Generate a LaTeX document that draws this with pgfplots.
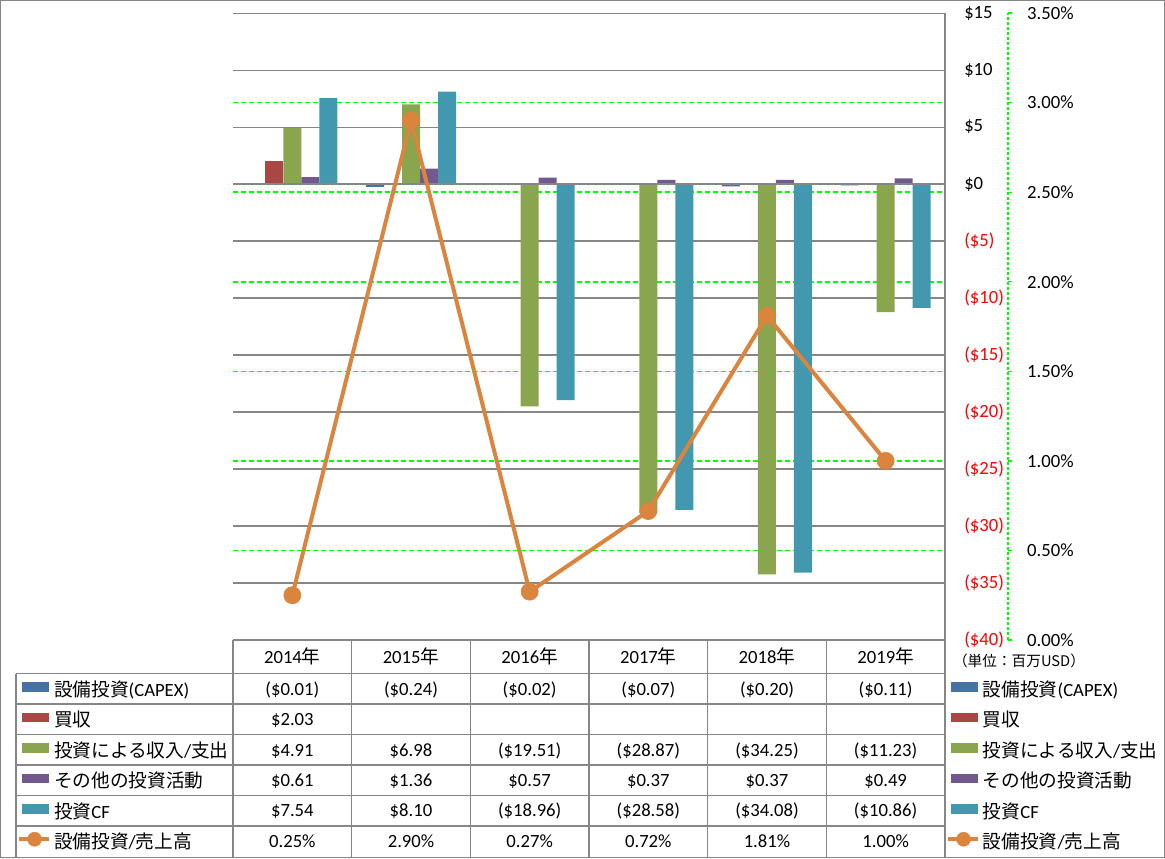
\documentclass[border=0pt]{standalone}
\usepackage{fontspec}
\setmainfont{Carlito}
\newfontfamily\jp{Noto Sans CJK JP}
\usepackage{pgfplots}
\pgfplotsset{compat=1.18}
\usepackage{pgfplotstable}

\definecolor{capex}{RGB}{69,114,167}
\definecolor{acq}{RGB}{170,70,67}
\definecolor{invest}{RGB}{137,165,78}
\definecolor{other}{RGB}{113,88,143}
\definecolor{cf}{RGB}{65,152,175}
\definecolor{ratio}{RGB}{219,132,61}
\definecolor{frame}{RGB}{134,134,134}
\definecolor{grn}{RGB}{0,255,0}

% x = year index (2014 = 0), money in million USD, ratio in %
\pgfplotstableread{
x capex acq invest other cf ratio
0 -0.01 2.03 4.91 0.61 7.54 0.25
1 -0.24 nan 6.98 1.36 8.10 2.90
2 -0.02 nan -19.51 0.57 -18.96 0.27
3 -0.07 nan -28.87 0.37 -28.58 0.72
4 -0.20 nan -34.25 0.37 -34.08 1.81
5 -0.11 nan -11.23 0.49 -10.86 1.00
}\cfdata

\newcommand\numfont{\fontsize{14}{17}\selectfont}

\pgfplotsset{
  plotarea/.style={
    at={(174.75pt,-480pt)}, anchor=south west, scale only axis,
    width=534pt, height=470.25pt, xmin=-0.5, xmax=5.5,
  },
  tablelegend/.style={
    legend cell align=left,
    legend style={draw=none, fill=none, inner sep=0pt, outer sep=0pt,
      row sep=0pt, font=\numfont,
      nodes={inner sep=0pt, text height=18.4pt, text depth=4.475pt},
      /tikz/every odd column/.style={column sep=2.25pt},
      anchor=north west},
  },
  barkey/.style={legend image code/.code={%
    \fill[#1] (0pt,-3.2pt) rectangle (19.5pt,3.2pt);}},
  linekey/.style={legend image code/.code={%
    \draw[#1,line width=3pt] (-2.25pt,0pt) -- (20.25pt,0pt);
    \fill[#1] (9.4pt,0pt) circle (5.25pt);}},
}

\newcommand\legendlist{%
  \addlegendimage{barkey=capex}
  \addlegendimage{barkey=acq}
  \addlegendimage{barkey=invest}
  \addlegendimage{barkey=other}
  \addlegendimage{barkey=cf}
  \addlegendimage{linekey=ratio}
  \legend{{\jp 設備投資}(CAPEX),{\jp 買収},{\jp 投資による収入}/{\jp 支出},{\jp その他の投資活動},{\jp 投資}CF,{\jp 設備投資}/{\jp 売上高}}
}

\begin{document}
\begin{tikzpicture}
\begin{scope}[x=0.75pt,y=-0.75pt]
  \useasboundingbox (0,0) rectangle (1165,858);
\end{scope}

% green grid of the ratio axis, right legend
\begin{axis}[plotarea, ymin=0, ymax=3.5,
  axis line style={draw=none}, xtick=\empty,
  ytick={0.5,1,1.5,2,2.5,3}, yticklabels={}, major tick length=0pt,
  ymajorgrids, major grid style={grn, dash pattern=on 3.75pt off 2.25pt, line width=1.2pt},
  tablelegend, legend style={at={(1.001404,-0.05024)}}]
  \legendlist
\end{axis}

% bars
\begin{axis}[plotarea, ymin=-40, ymax=15,
  ybar=0pt, bar width=13.5pt,
  axis x line=none, axis y line*=right,
  y axis line style={frame, line width=0.8pt, -},
  xtick=\empty, ytick={-40,-35,...,15},
  yticklabels={{\color{red}(\$40)},{\color{red}(\$35)},{\color{red}(\$30)},{\color{red}(\$25)},{\color{red}(\$20)},{\color{red}(\$15)},{\color{red}(\$10)},{\color{red}(\$5)},\$0,\$5,\$10,\$15},
  major tick length=0pt,
  ymajorgrids, major grid style={frame, line width=0.8pt},
  yticklabel style={anchor=west, inner sep=0pt, xshift=14.25pt, font=\numfont}]
  \addplot[fill=capex, draw=none] table[x=x, y=capex] {\cfdata};
  \addplot[fill=acq, draw=none] table[x=x, y=acq] {\cfdata};
  \addplot[fill=invest, draw=none] table[x=x, y=invest] {\cfdata};
  \addplot[fill=other, draw=none] table[x=x, y=other] {\cfdata};
  \addplot[fill=cf, draw=none] table[x=x, y=cf] {\cfdata};
  \draw[frame, line width=0.8pt] (axis cs:-0.5,0) -- (axis cs:5.5,0);
\end{axis}

% ratio line, left legend
\begin{axis}[plotarea, ymin=0, ymax=3.5, hide axis, clip=false,
  tablelegend, legend style={at={(-0.30337,-0.05024)}}]
  \addplot[ratio, line width=3pt, mark=*, mark size=6.4pt,
    mark options={fill=ratio, line width=0.5pt}, forget plot]
    table[x=x, y=ratio] {\cfdata};
  \legendlist
\end{axis}

% secondary axis line and labels
\begin{axis}[at={(756pt,-480pt)}, anchor=south east, scale only axis,
  width=5pt, height=470.25pt, xmin=0, xmax=1, ymin=0, ymax=3.5,
  axis x line=none, axis y line*=right,
  y axis line style={grn, dash pattern=on 2.25pt off 1.5pt, line width=1pt, -},
  xtick=\empty, ytick={0,0.5,1,1.5,2,2.5,3,3.5},
  yticklabels={0.00\%,0.50\%,1.00\%,1.50\%,2.00\%,2.50\%,3.00\%,3.50\%},
  tick style={grn, solid, line width=1pt}, tick align=outside, major tick length=3pt,
  yticklabel style={anchor=west, inner sep=0pt, xshift=11.25pt, font=\numfont}]
\end{axis}

% data table
\begin{scope}[x=0.75pt,y=-0.75pt]
  \draw[frame, line width=0.8pt] (0.5,0.5) rectangle (1164.5,857.5);
  \draw[frame, line width=0.8pt] (233,640) -- (945,640);
  \foreach \yy in {673.5,704,734.5,765,795.5,826}
    \draw[frame, line width=0.8pt] (16,\yy) -- (945,\yy);
  \draw[frame, line width=0.8pt] (16,673.5) -- (16,857.5);
  \foreach \xx in {233,351.67,470.33,589,707.67,826.33,945}
    \draw[frame, line width=0.8pt] (\xx,640) -- (\xx,857.5);
  \foreach \yr [count=\c from 0] in {2014,2015,2016,2017,2018,2019}
    \node[font=\numfont, anchor=base, inner sep=0pt] at ({233+118.667*(\c+0.5)},663.5) {\yr{\jp 年}};
  \newcommand\rowtext[2]{%
    \foreach \t [count=\c from 0] in {#2}
      \node[font=\numfont, anchor=base, inner sep=0pt] at ({233+118.667*(\c+0.5)},{695+30.5*#1}) {\t};}
  \rowtext{0}{(\$0.01),(\$0.24),(\$0.02),(\$0.07),(\$0.20),(\$0.11)}
  \rowtext{1}{\$2.03}
  \rowtext{2}{\$4.91,\$6.98,(\$19.51),(\$28.87),(\$34.25),(\$11.23)}
  \rowtext{3}{\$0.61,\$1.36,\$0.57,\$0.37,\$0.37,\$0.49}
  \rowtext{4}{\$7.54,\$8.10,(\$18.96),(\$28.58),(\$34.08),(\$10.86)}
  \rowtext{5}{0.25\%,2.90\%,0.27\%,0.72\%,1.81\%,1.00\%}
  \node[font=\jp\fontsize{11}{13}\selectfont, inner sep=0pt] at (1019,661) {（単位：百万USD）};
\end{scope}
\end{tikzpicture}
\end{document}
